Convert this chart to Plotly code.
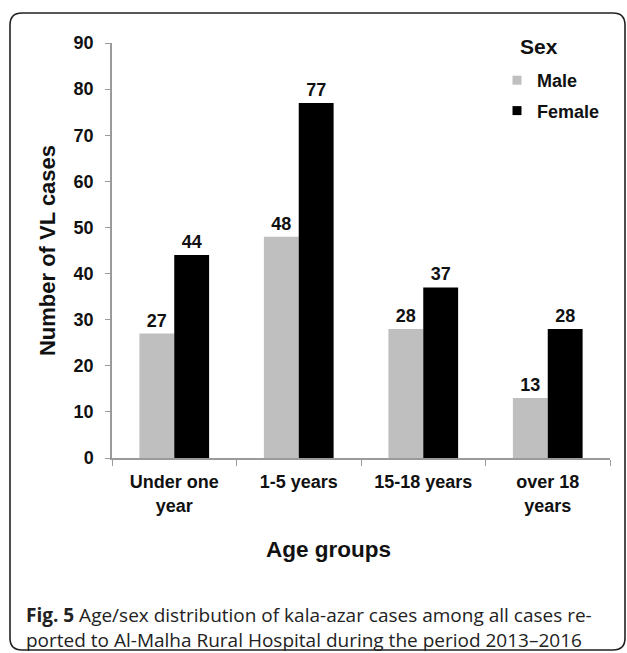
import plotly.graph_objects as go

# Age groups and case counts by sex
age_groups = ["Under one<br>year", "1-5 years", "15-18 years", "over 18<br>years"]
male_cases = [27, 48, 28, 13]
female_cases = [44, 77, 37, 28]
y_ticks = [0, 10, 20, 30, 40, 50, 60, 70, 80, 90]

W, H = 627, 653
L, R, T, B = 112, 17, 43, 195
PW, PH = W - L - R, H - T - B
FONT = "Liberation Sans"


def px(x):
    return (x - L) / PW


def py(y):
    return (H - B - y) / PH


label_font = dict(family=FONT, size=18, color="#111", weight="bold")

fig = go.Figure()
fig.add_trace(go.Bar(
    name="Male", x=age_groups, y=male_cases, marker_color="#bfbfbf",
    marker_line_width=0, text=male_cases, textposition="outside",
    textfont=label_font, cliponaxis=False, showlegend=False,
))
fig.add_trace(go.Bar(
    name="Female", x=age_groups, y=female_cases, marker_color="#000000",
    marker_line_width=0, text=female_cases, textposition="outside",
    textfont=label_font, cliponaxis=False, showlegend=False,
))
# small square legend keys
for name, color, grp in [("Male", "#bfbfbf", "m"), ("Female", "#000000", "f")]:
    fig.add_trace(go.Scatter(
        x=[None], y=[None], mode="markers", name=name, legendgroup=grp,
        marker=dict(symbol="square", size=9, color=color),
    ))

# rounded frame around the figure
x0, y0, x1, y1, r = px(10), py(13), px(625), py(650), 12
rx, ry = r / PW, r / PH
path = (f"M {x0+rx},{y0} L {x1-rx},{y0} Q {x1},{y0} {x1},{y0-ry} "
        f"L {x1},{y1+ry} Q {x1},{y1} {x1-rx},{y1} L {x0+rx},{y1} "
        f"Q {x0},{y1} {x0},{y1+ry} L {x0},{y0-ry} Q {x0},{y0} {x0+rx},{y0} Z")
fig.add_shape(type="path", path=path, xref="paper", yref="paper",
              line=dict(color="#222", width=1.6), fillcolor="rgba(0,0,0,0)")

# legend heading
fig.add_annotation(
    text="Sex", xref="paper", yref="paper", x=px(518), y=py(46),
    xanchor="left", yanchor="middle", showarrow=False,
    font=dict(family=FONT, size=21, color="#111", weight="bold"),
)

# x-axis title
fig.add_annotation(
    text="Age groups", xref="paper", yref="paper", x=px(328), y=py(549),
    xanchor="center", yanchor="middle", showarrow=False,
    font=dict(family=FONT, size=22.5, color="#111", weight="bold"),
)

# figure caption
fig.add_annotation(
    text="<b>Fig. 5</b> Age/sex distribution of kala-azar cases among all cases re-<br>"
         "ported to Al-Malha Rural Hospital during the period 2013–2016",
    xref="paper", yref="paper", x=px(24), y=py(600), xanchor="left", yanchor="top",
    align="left", showarrow=False,
    font=dict(family="Open Sans", size=19, color="#222"),
)

fig.update_layout(
    width=W, height=H, margin=dict(l=L, r=R, t=T, b=B),
    paper_bgcolor="white", plot_bgcolor="white",
    barmode="group", bargap=0.44, bargroupgap=0,
    font=dict(family=FONT, color="#111"),
    showlegend=True,
    legend=dict(
        font=dict(size=18, family=FONT, weight="bold"),
        x=px(497), y=py(62), xanchor="left", yanchor="top",
        bgcolor="rgba(0,0,0,0)", tracegroupgap=4, itemwidth=30,
    ),
    xaxis=dict(
        showline=True, linecolor="#9a9a9a", linewidth=1.5,
        ticks="outside", ticklen=6, tickcolor="#9a9a9a", tickson="boundaries",
        tickfont=dict(size=18, family=FONT, weight="bold"),
        ticklabelstandoff=7,
    ),
    yaxis=dict(
        range=[0, 90], tickvals=y_ticks, showgrid=False, zeroline=False,
        showline=True, linecolor="#9a9a9a", linewidth=1.5,
        ticks="outside", ticklen=5, tickcolor="#9a9a9a",
        tickfont=dict(size=18, family=FONT, weight="bold"),
        ticklabelstandoff=8,
        title=dict(text="Number of VL cases",
                   font=dict(size=22, family=FONT, weight="bold"), standoff=12),
    ),
)

fig.write_html("out.html")
